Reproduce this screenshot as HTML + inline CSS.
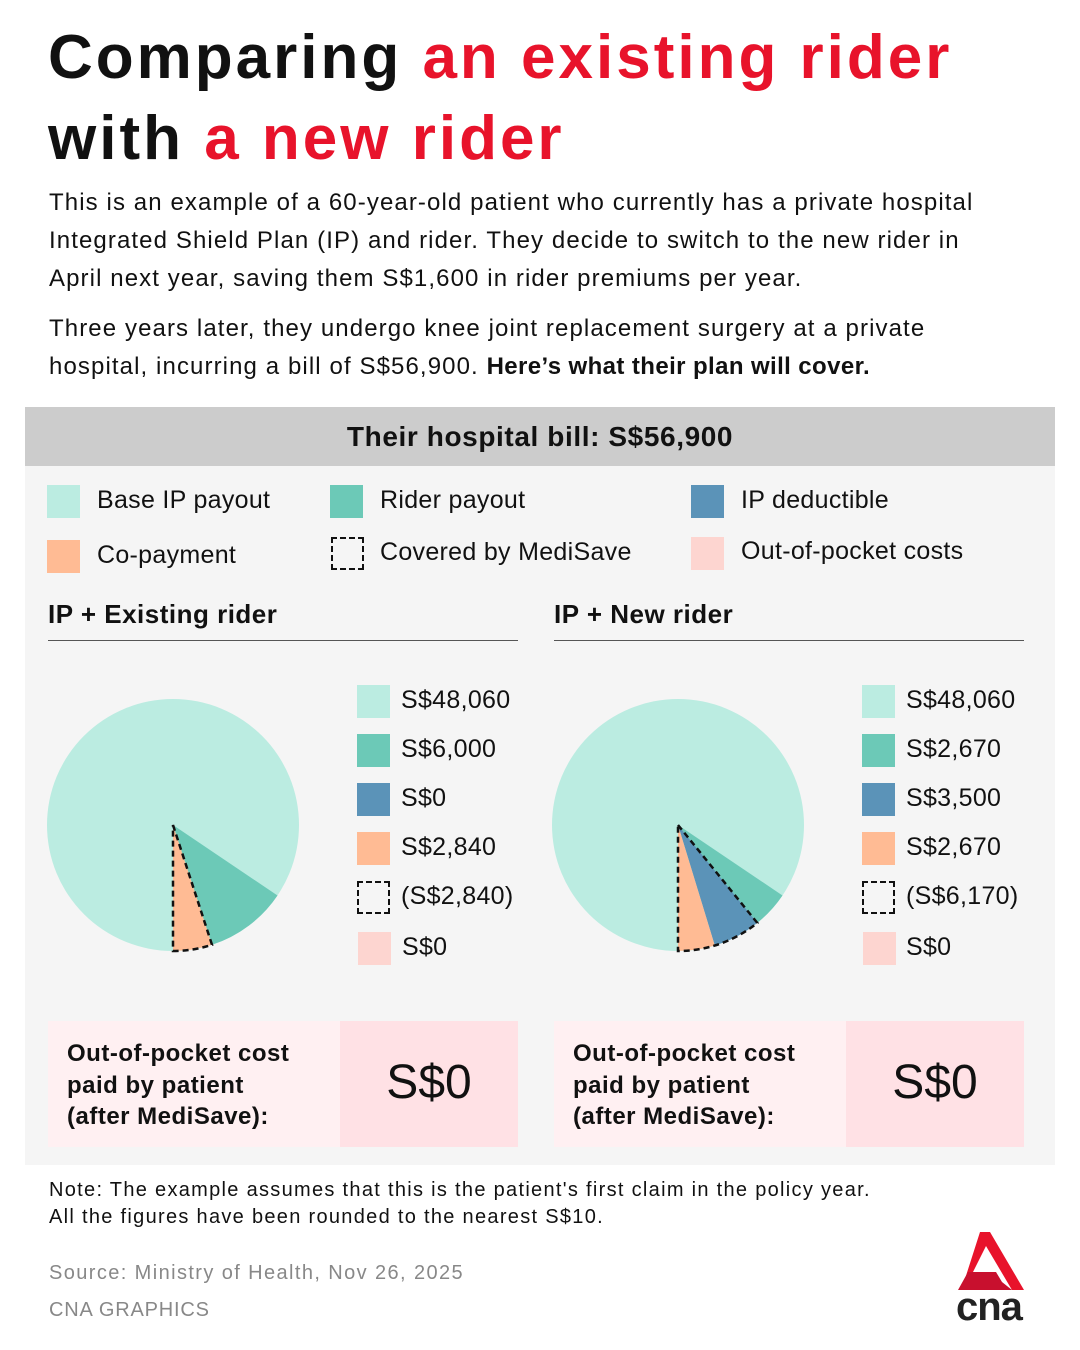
<!DOCTYPE html>
<html><head><meta charset="utf-8"><style>
*{margin:0;padding:0;box-sizing:border-box}
body{width:1080px;height:1350px;background:#fff;font-family:"Liberation Sans",sans-serif;color:#111;position:relative;overflow:hidden}
.a{position:absolute;white-space:nowrap}
.t{font-size:62px;font-weight:bold;letter-spacing:3px;left:48px}
.r{color:#e8132b}
.p{font-size:24px;left:49px;letter-spacing:1.1px}
.sw{position:absolute;width:33px;height:33px}
.lg{font-size:25px;letter-spacing:0.3px}
.v{font-size:25px;letter-spacing:0.3px}
.box{position:absolute;top:1021px;height:126px;background:#fff0f2}
.box .l{position:absolute;left:19px;top:17px;font-size:24px;font-weight:bold;line-height:31.5px;letter-spacing:0.5px}
.box .rr{position:absolute;right:0;top:0;width:178px;height:126px;background:#ffe1e5;font-size:48px;text-align:center;line-height:124px}
</style></head><body>
<div class="a t" style="top:22px">Comparing <span class="r">an existing rider</span></div>
<div class="a t" style="top:103px">with <span class="r">a new rider</span></div>
<div class="a p" style="top:189px">This is an example of a 60-year-old patient who currently has a private hospital</div>
<div class="a p" style="top:227px">Integrated Shield Plan (IP) and rider. They decide to switch to the new rider in</div>
<div class="a p" style="top:265px">April next year, saving them S$1,600 in rider premiums per year.</div>
<div class="a p" style="top:315px">Three years later, they undergo knee joint replacement surgery at a private</div>
<div class="a p" style="top:353px">hospital, incurring a bill of S$56,900. <b style="letter-spacing:0.4px">Here’s what their plan will cover.</b></div>

<div class="a" style="left:25px;top:407px;width:1030px;height:758px;background:#f5f5f5"></div>
<div class="a" style="left:25px;top:407px;width:1030px;height:59px;background:#cccccc;font-size:28px;font-weight:bold;text-align:center;line-height:59px;letter-spacing:0.6px">Their hospital bill: S$56,900</div>

<div class="sw" style="left:47px;top:485px;background:#bbece1"></div><div class="a lg" style="left:97px;top:486px">Base IP payout</div>
<div class="sw" style="left:330px;top:485px;background:#6cc9b7"></div><div class="a lg" style="left:380px;top:486px">Rider payout</div>
<div class="sw" style="left:691px;top:485px;background:#5b93b8"></div><div class="a lg" style="left:741px;top:486px">IP deductible</div>
<div class="sw" style="left:47px;top:540px;background:#ffbb94"></div><div class="a lg" style="left:97px;top:541px">Co-payment</div>
<div class="sw" style="left:331px;top:537px;border:2px dashed #111"></div><div class="a lg" style="left:380px;top:538px">Covered by MediSave</div>
<div class="sw" style="left:691px;top:537px;background:#fdd5d0"></div><div class="a lg" style="left:741px;top:537px">Out-of-pocket costs</div>

<div class="a" style="left:48px;top:599px;font-size:26px;font-weight:bold;letter-spacing:0.5px">IP + Existing rider</div>
<div class="a" style="left:48px;top:640px;width:470px;height:1px;background:#555"></div>
<div class="a" style="left:554px;top:599px;font-size:26px;font-weight:bold;letter-spacing:0.5px">IP + New rider</div>
<div class="a" style="left:554px;top:640px;width:470px;height:1px;background:#555"></div>

<svg class="a" style="left:0;top:0" width="1080" height="1350">
<circle cx="173" cy="825" r="126" fill="#bbece1"/>
<path d="M173 825 L277.5 895.5 A126 126 0 0 1 212 944.8 Z" fill="#6cc9b7"/>
<path d="M173 825 L212 944.8 A126 126 0 0 1 173 951 Z" fill="#ffbb94" stroke="#111" stroke-width="2.5" stroke-dasharray="6 4"/>
<circle cx="678" cy="825" r="126" fill="#bbece1"/>
<path d="M678 825 L782.5 895.5 A126 126 0 0 1 757.3 922.9 Z" fill="#6cc9b7"/>
<path d="M678 825 L757.3 922.9 A126 126 0 0 1 714.8 945.5 Z" fill="#5b93b8"/>
<path d="M678 825 L714.8 945.5 A126 126 0 0 1 678 951 Z" fill="#ffbb94"/>
<path d="M678 825 L757.3 922.9 A126 126 0 0 1 678 951 Z" fill="none" stroke="#111" stroke-width="2.5" stroke-dasharray="6 4"/>
<g transform="translate(956,1232)">
<polygon points="24,0 34,0 68,58 56,58 30,14 12,50 8,50" fill="#e8132b"/>
<polygon points="2,58 12,40 40,40 46,50 56,58" fill="#c8102e"/>
<text x="0" y="88" font-family="Liberation Sans" font-weight="bold" font-size="40" fill="#222" letter-spacing="-1">cna</text>
</g>
</svg>

<div class="sw" style="left:357px;top:685px;background:#bbece1"></div><div class="a v" style="left:401px;top:686px">S$48,060</div>
<div class="sw" style="left:357px;top:734px;background:#6cc9b7"></div><div class="a v" style="left:401px;top:735px">S$6,000</div>
<div class="sw" style="left:357px;top:783px;background:#5b93b8"></div><div class="a v" style="left:401px;top:784px">S$0</div>
<div class="sw" style="left:357px;top:832px;background:#ffbb94"></div><div class="a v" style="left:401px;top:833px">S$2,840</div>
<div class="sw" style="left:357px;top:881px;border:2px dashed #111"></div><div class="a v" style="left:401px;top:882px">(S$2,840)</div>
<div class="sw" style="left:358px;top:932px;background:#fdd5d0"></div><div class="a v" style="left:402px;top:933px">S$0</div>

<div class="sw" style="left:862px;top:685px;background:#bbece1"></div><div class="a v" style="left:906px;top:686px">S$48,060</div>
<div class="sw" style="left:862px;top:734px;background:#6cc9b7"></div><div class="a v" style="left:906px;top:735px">S$2,670</div>
<div class="sw" style="left:862px;top:783px;background:#5b93b8"></div><div class="a v" style="left:906px;top:784px">S$3,500</div>
<div class="sw" style="left:862px;top:832px;background:#ffbb94"></div><div class="a v" style="left:906px;top:833px">S$2,670</div>
<div class="sw" style="left:862px;top:881px;border:2px dashed #111"></div><div class="a v" style="left:906px;top:882px">(S$6,170)</div>
<div class="sw" style="left:863px;top:932px;background:#fdd5d0"></div><div class="a v" style="left:906px;top:933px">S$0</div>

<div class="box" style="left:48px;width:470px"><div class="l">Out-of-pocket cost<br>paid by patient<br>(after MediSave):</div><div class="rr">S$0</div></div>
<div class="box" style="left:554px;width:470px"><div class="l">Out-of-pocket cost<br>paid by patient<br>(after MediSave):</div><div class="rr">S$0</div></div>

<div class="a" style="left:49px;top:1177px;font-size:20px;line-height:27px;letter-spacing:1.3px">Note: The example assumes that this is the patient's first claim in the policy year.<br>All the figures have been rounded to the nearest S$10.</div>
<div class="a" style="left:49px;top:1262px;font-size:20px;color:#888;letter-spacing:1.4px">Source: Ministry of Health, Nov 26, 2025</div>
<div class="a" style="left:49px;top:1299px;font-size:20px;color:#888;letter-spacing:0.8px">CNA GRAPHICS</div>
</body></html>
